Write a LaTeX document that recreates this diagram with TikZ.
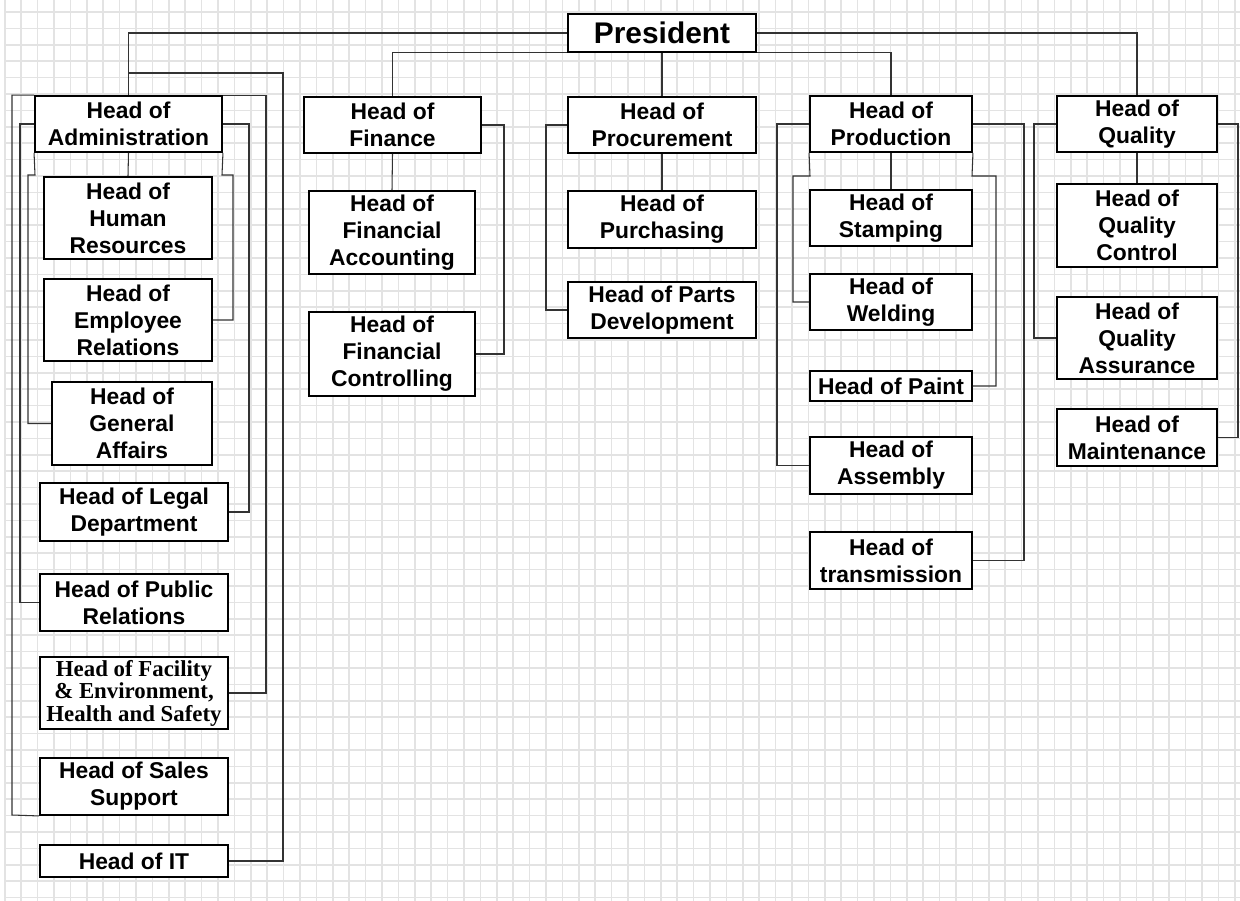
\documentclass[tikz,border=0pt]{standalone}
\usepackage{fontspec}
\setmainfont{Liberation Sans}
\newfontfamily\serifbold{Liberation Serif}
\begin{document}
\begin{tikzpicture}[x=0.02cm,y=-0.02cm,
  box/.style={draw=black,line width=1.1pt,fill=white,inner sep=0pt,align=center,
    font=\fontsize{13}{15.4}\selectfont\bfseries},
  serifbox/.style={font=\serifbold\fontsize{13}{12.8}\selectfont\bfseries},
  bigbox/.style={font=\fontsize{17}{20}\selectfont\bfseries},
  conn/.style={draw=black!80,line width=0.6pt},
  gridline/.style={draw=black!11,line width=0.9pt}]
\newcommand\bx[7][]{\node[box,#1,minimum width={(#4-#3)*0.2mm},minimum height={(#6-#5)*0.2mm}] (#2) at ({(#3+#4)/2},{(#5+#6)/2}) {#7};}
\fill[white] (0,0) rectangle (1240,901);
\useasboundingbox (0,0) rectangle (1240,901);
% background grid
\foreach \k in {0,...,75} {\draw[gridline] ({4.8+16.4*\k},0) -- ({4.8+16.4*\k},901);}
\foreach \k in {0,...,54} {\draw[gridline] (4.8,{12+16.4*\k}) -- (1240,{12+16.4*\k});}
% boxes
\bx[bigbox]{pres}{568}{756}{14}{52}{President}
\bx{adm}{35}{222}{96}{152}{Head of\\Administration}
\bx{hr}{44}{212}{177}{259}{Head of\\Human\\Resources}
\bx{er}{44}{212}{279}{361}{Head of\\Employee\\Relations}
\bx{ga}{52}{212}{382}{465}{Head of\\General\\Affairs}
\bx{legal}{40}{228}{483}{541}{Head of Legal\\Department}
\bx{pr}{40}{228}{574}{631}{Head of Public\\Relations}
\bx[serifbox]{fac}{40}{228}{657}{729}{Head of Facility\\\& Environment,\\Health and Safety}
\bx{sales}{40}{228}{758}{815}{Head of Sales\\Support}
\bx{it}{40}{228}{845}{877}{Head of IT}
\bx{fin}{304}{481}{97}{153}{Head of\\Finance}
\bx{fa}{309}{475}{191}{274}{Head of\\Financial\\Accounting}
\bx{fc}{309}{475}{312}{396}{Head of\\Financial\\Controlling}
\bx{proc}{568}{756}{97}{153}{Head of\\Procurement}
\bx{pur}{568}{756}{191}{248}{Head of\\Purchasing}
\bx{pd}{568}{756}{282}{338}{Head of Parts\\Development}
\bx{prod}{810}{972}{96}{152}{Head of\\Production}
\bx{stamp}{810}{972}{190}{246}{Head of\\Stamping}
\bx{weld}{810}{972}{274}{330}{Head of\\Welding}
\bx{paint}{810}{972}{371}{401}{Head of Paint}
\bx{asm}{810}{972}{437}{494}{Head of\\Assembly}
\bx{trans}{810}{972}{532}{589}{Head of\\transmission}
\bx{qual}{1057}{1217}{96}{152}{Head of\\Quality}
\bx{qc}{1057}{1217}{184}{267}{Head of\\Quality\\Control}
\bx{qa}{1057}{1217}{297}{379}{Head of\\Quality\\Assurance}
\bx{maint}{1057}{1217}{409}{466}{Head of\\Maintenance}
% connectors
\draw[conn] (pres.west) -| (adm.north);
\draw[conn] (pres.east) -| (qual.north);
\draw[conn] (pres.south west) -| (fin.north);
\draw[conn] (pres.south east) -| (prod.north);
\draw[conn] (pres.south) -- (proc.north);
% administration
\draw[conn] (adm.south) -- (hr.north);
\draw[conn] (adm.north) |- (283,73) |- (it.east);
\draw[conn] (adm.north west) -| (12,815) -- (sales.south west);
\draw[conn] (adm.north east) -| (266,693) -- (fac.east);
\draw[conn] (adm.west) -| (20,602.5) -- (pr.west);
\draw[conn] (adm.east) -| (249,512) -- (legal.east);
\draw[conn] (adm.south west) -- (35,175) -| (28,423.5) -- (ga.west);
\draw[conn] (adm.south east) -- (222,175) -| (233,320) -- (er.east);
% finance
\draw[conn] (fin.south) -- (fa.north);
\draw[conn] (fin.east) -| (504,354) -- (fc.east);
% procurement
\draw[conn] (proc.south) -- (pur.north);
\draw[conn] (proc.west) -| (546,310) -- (pd.west);
% production
\draw[conn] (prod.south) -- (stamp.north);
\draw[conn] (prod.south west) -- (810,176) -| (793,302) -- (weld.west);
\draw[conn] (prod.south east) -- (972,176) -| (996,386) -- (paint.east);
\draw[conn] (prod.west) -| (777,465.5) -- (asm.west);
\draw[conn] (prod.east) -| (1024,560.5) -- (trans.east);
% quality
\draw[conn] (qual.south) -- (qc.north);
\draw[conn] (qual.west) -| (1034,338) -- (qa.west);
\draw[conn] (qual.east) -| (1238,437.5) -- (maint.east);
\end{tikzpicture}
\end{document}
